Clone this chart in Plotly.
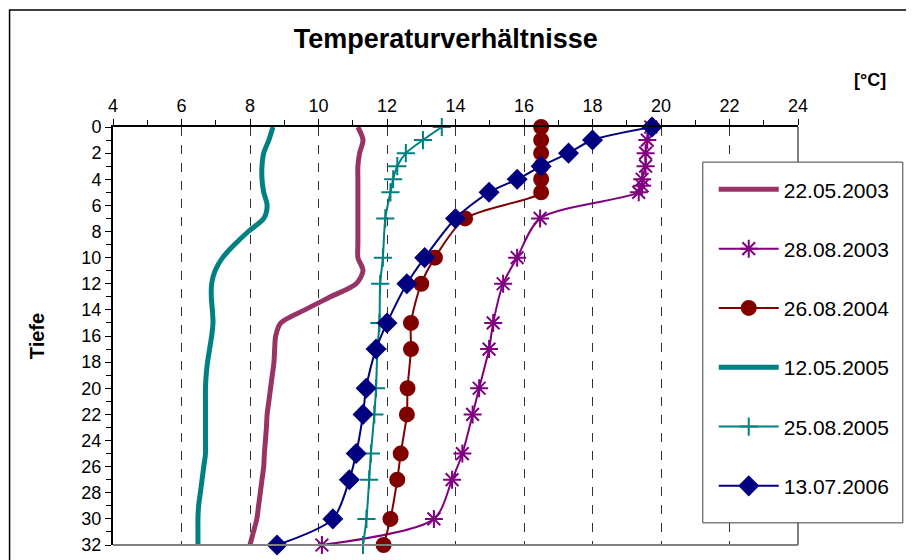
import plotly.graph_objects as go

# depth values (m)
depth_full = list(range(0, 33))
depth_pts = [0, 1, 2, 3, 4, 5, 7, 10, 12, 15, 17, 20, 22, 25, 27, 30, 32]
depth_2003b = [0, 1, 2, 3, 4, 4.5, 5, 7, 10, 12, 15, 17, 20, 22, 25, 27, 30, 32]

# temperatures (°C)
t_22_05_2003 = [11.15, 11.3, 11.2, 11.15, 11.15, 11.15, 11.15, 11.15, 11.15, 11.15, 11.15,
                11.3, 11.1, 10.35, 9.6, 8.9, 8.75, 8.72, 8.7, 8.65, 8.6, 8.55, 8.5, 8.48,
                8.45, 8.42, 8.4, 8.35, 8.3, 8.25, 8.2, 8.1, 8.0]
t_28_08_2003 = [19.7, 19.6, 19.55, 19.55, 19.45, 19.45, 19.35, 16.47, 15.8, 15.39, 15.1,
                14.98, 14.69, 14.5, 14.2, 13.9, 13.37, 10.1]
t_26_08_2004 = [16.5, 16.5, 16.5, 16.5, 16.5, 16.5, 14.28, 13.4, 13.0, 12.7, 12.7, 12.6,
                12.58, 12.4, 12.3, 12.1, 11.9]
t_12_05_2005 = [8.67, 8.55, 8.4, 8.35, 8.35, 8.4, 8.5, 8.4, 7.95, 7.55, 7.2, 6.98, 6.88,
                6.87, 6.9, 6.92, 6.88, 6.82, 6.76, 6.72, 6.7, 6.7, 6.7, 6.7, 6.7, 6.7,
                6.65, 6.6, 6.55, 6.5, 6.48, 6.48, 6.48]
t_25_08_2005 = [13.6, 13.05, 12.55, 12.3, 12.18, 12.1, 11.95, 11.88, 11.8, 11.78, 11.72,
                11.68, 11.63, 11.53, 11.48, 11.4, 11.3]
t_13_07_2006 = [19.74, 18.0, 17.3, 16.5, 15.8, 14.98, 14.0, 13.1, 12.58, 12.0, 11.68,
                11.39, 11.3, 11.1, 10.9, 10.42, 8.79]

x_ticks = list(range(4, 25, 2))
y_ticks = list(range(0, 33, 2))

FONT = "Liberation Sans, Arial, sans-serif"

series = [
    ("22.05.2003", t_22_05_2003, depth_full, "#993366", 5, None, 0),
    ("28.08.2003", t_28_08_2003, depth_2003b, "#800080", 2, "asterisk-open", 15),
    ("26.08.2004", t_26_08_2004, depth_pts, "#800000", 2, "circle", 14),
    ("12.05.2005", t_12_05_2005, depth_full, "#008080", 5, None, 0),
    ("25.08.2005", t_25_08_2005, depth_pts, "#008080", 2, "cross-thin-open", 13),
    ("13.07.2006", t_13_07_2006, depth_pts, "#000080", 2, "diamond", 14),
]

fig = go.Figure()
for i, (name, xs, ys, col, lw, sym, ms) in enumerate(series):
    kw = dict(mode="lines")
    if sym:
        kw = dict(mode="lines+markers",
                  marker=dict(symbol=sym, size=ms, color=col,
                              line=dict(color=col, width=2)))
    fig.add_trace(go.Scatter(
        x=xs, y=ys, name=name, legendgroup=str(i), cliponaxis=False,
        line=dict(color=col, width=lw, shape="spline", smoothing=0.8), **kw))

# page body has an 8px margin, so margins are shifted to compensate
fig.update_layout(
    width=914, height=560,
    margin=dict(l=105, r=124, t=119, b=23),
    paper_bgcolor="white", plot_bgcolor="white",
    font=dict(family=FONT, size=18, color="black"),
    title=dict(text="<b>Temperaturverhältnisse</b>", x=0.479, xanchor="center",
               y=0.945, yanchor="middle", font=dict(size=27)),
    legend=dict(x=0.877, y=0.899, xanchor="left", yanchor="top",
                borderwidth=0, bgcolor="rgba(0,0,0,0)",
                font=dict(size=21), tracegroupgap=29, traceorder="grouped",
                itemwidth=60),
    showlegend=True,
)

fig.update_xaxes(
    range=[4, 24], side="top", tickvals=x_ticks,
    showline=True, linecolor="black", linewidth=2,
    ticks="outside", ticklen=6, tickcolor="black",
    minor=dict(dtick=1, ticks="outside", ticklen=5, tickcolor="black", showgrid=False),
    showgrid=True, gridcolor="#333333", griddash="dash", gridwidth=1,
    zeroline=False, automargin=False,
)
fig.update_yaxes(
    range=[32, 0], tickvals=y_ticks,
    showline=True, linecolor="black", linewidth=2,
    ticks="outside", ticklen=6, tickcolor="black",
    minor=dict(dtick=1, ticks="outside", ticklen=5, tickcolor="black"),
    showgrid=False, zeroline=False, automargin=False,
    title=dict(text="<b>Tiefe</b>", standoff=31, font=dict(size=20)),
)

# plot area border (right, bottom), legend box and outer chart frame
fig.add_shape(type="line", xref="paper", yref="paper", x0=1, x1=1, y0=0, y1=1,
              line=dict(color="#808080", width=2))
fig.add_shape(type="line", xref="paper", yref="paper", x0=0, x1=1, y0=0, y1=0,
              line=dict(color="#808080", width=2))
fig.add_shape(type="rect", xref="paper", yref="paper", x0=0.861, x1=1.153,
              y0=0.053, y1=0.916, line=dict(color="#404040", width=1),
              fillcolor="white", layer="above")
fig.add_shape(type="rect", xref="paper", yref="paper", x0=-0.151, x1=1.162,
              y0=-0.2, y1=1.28, line=dict(color="black", width=1.5), layer="above")

fig.add_annotation(text="<b>[°C]</b>", xref="paper", yref="paper", x=1.131, y=1.141,
                   showarrow=False, font=dict(size=18))

fig.write_html("out.html")
